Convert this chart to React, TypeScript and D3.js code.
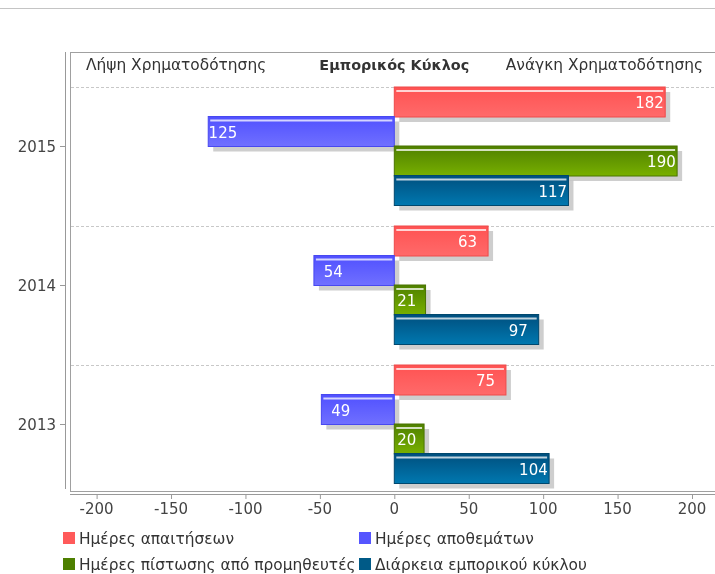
import * as d3 from "d3"

const years = ["2015", "2014", "2013"]
const seriesNames = [
  "Ημέρες απαιτήσεων",
  "Ημέρες αποθεμάτων",
  "Ημέρες πίστωσης από προμηθευτές",
  "Διάρκεια εμπορικού κύκλου",
]
const receivableDays = [182, 63, 75]
const inventoryDays = [-125, -54, -49]
const supplierDays = [190, 21, 20]
const cycleDays = [117, 97, 104]
const xTicks = [-200, -150, -100, -50, 0, 50, 100, 150, 200]
const headerLeft = "Λήψη Χρηματοδότησης"
const headerMid = "Εμπορικός Κύκλος"
const headerRight = "Ανάγκη Χρηματοδότησης"

const seriesValues = [receivableDays, inventoryDays, supplierDays, cycleDays]
// gradient top / bottom, border, legend swatch
const palette = [
  { top: "#ff5252", bottom: "#ff6a6a", border: "#ee4a4a", legend: "#ff5a5a" },
  { top: "#5050ff", bottom: "#7070ff", border: "#4848f0", legend: "#5555ff" },
  { top: "#4f8000", bottom: "#78b000", border: "#4a7400", legend: "#4d7f00" },
  { top: "#004f7e", bottom: "#0078b0", border: "#00486e", legend: "#005a87" },
]

const W = 715
const H = 574
const font = "'DejaVu Sans', sans-serif"

export default function App() {
  const plotLeft = 70
  const plotTop = 52
  const plotBottom = 491
  const headerBottom = 87

  const x = d3.scaleLinear().domain([-200, 200]).range([96.6, 692])
  const y = d3.scaleBand<string>().domain(years).range([headerBottom, headerBottom + 139 * 3]).paddingInner(0)
  const inner = d3
    .scaleBand<number>()
    .domain(seriesValues.map((_, i) => i))
    .range([0, 118])
  const barH = inner.bandwidth() + 0.5
  const groupCenter = (yr: string) => (y(yr) || 0) + 59

  return (
    <div style={{ position: "fixed", left: 0, top: 0 }}>
      <svg width={W} height={H} style={{ display: "block", fontFamily: font }}>
        <defs>
          {palette.map((p, i) => (
            <linearGradient key={i} id={`g${i}`} x1="0" y1="0" x2="0" y2="1">
              <stop offset="0%" stopColor={p.top} />
              <stop offset="100%" stopColor={p.bottom} />
            </linearGradient>
          ))}
          <clipPath id="plot">
            <rect x={plotLeft} y={plotTop} width={W - plotLeft} height={plotBottom - plotTop} />
          </clipPath>
        </defs>

        {/* top separator */}
        <line x1={0} x2={W} y1={8.5} y2={8.5} stroke="#c4c4c4" />

        {/* plot frame */}
        <rect x={plotLeft + 0.5} y={plotTop + 0.5} width={W} height={plotBottom - plotTop} fill="none" stroke="#a0a0a0" />

        {/* header */}
        <g fill="#333">
          <text x={86} y={70} fontSize={15.4}>{headerLeft}</text>
          <text x={x(0)} y={70} fontSize={14.4} textAnchor="middle" fontWeight="bold">{headerMid}</text>
          <text x={703} y={70} fontSize={15.4} textAnchor="end">{headerRight}</text>
        </g>

        {/* dashed separators */}
        {years.map((yr) => (
          <line
            key={yr}
            x1={plotLeft + 1}
            x2={W}
            y1={(y(yr) || 0) + 0.5}
            y2={(y(yr) || 0) + 0.5}
            stroke="#c8c8c8"
            strokeDasharray="3,2"
          />
        ))}

        {/* bars */}
        <g clipPath="url(#plot)">
          {years.map((yr, yi) =>
            seriesValues.map((vals, si) => {
              const v = vals[yi]
              const x0 = x(Math.min(0, v))
              const x1 = x(Math.max(0, v))
              const w = x1 - x0
              const top = (y(yr) || 0) + (inner(si) || 0)
              const p = palette[si]
              const labelPos = v >= 0 ? Math.max(x1 - 30, x0 + 3) : x0 + 29
              return (
                <g key={`${yr}-${si}`}>
                  <rect x={x0 + 5} y={top + 5} width={w} height={barH} fill="#bdbdbd" opacity={0.75} />
                  <rect x={x0} y={top} width={w} height={barH} fill={`url(#g${si})`} stroke={p.border} strokeWidth={1} />
                  <rect x={x0 + 2} y={top + 3} width={Math.max(0, w - 4)} height={2} fill="#ffffff" opacity={0.75} />
                  <text
                    x={labelPos}
                    y={top + barH / 2 + 6}
                    fill="#ffffff"
                    fontSize={15}
                    textAnchor={v >= 0 ? "start" : "end"}
                  >
                    {Math.abs(v)}
                  </text>
                </g>
              )
            }),
          )}
        </g>

        {/* y axis */}
        <line x1={65.5} x2={65.5} y1={plotTop} y2={489} stroke="#999" />
        {years.map((yr) => (
          <g key={yr} transform={`translate(0,${groupCenter(yr)})`}>
            <line x1={60} x2={65} y1={0.5} y2={0.5} stroke="#999" />
            <text x={56} y={6} textAnchor="end" fontSize={15} fill="#444">{yr}</text>
          </g>
        ))}

        {/* x axis */}
        <line x1={plotLeft} x2={W} y1={494.5} y2={494.5} stroke="#999" />
        {xTicks.map((t) => (
          <g key={t} transform={`translate(${x(t)},0)`}>
            <line x1={0.5} x2={0.5} y1={495} y2={499} stroke="#999" />
            <text x={0} y={514} textAnchor="middle" fontSize={15} fill="#444">{t}</text>
          </g>
        ))}

        {/* legend */}
        {seriesNames.map((name, i) => {
          const col = i % 2
          const row = Math.floor(i / 2)
          const lx = col === 0 ? 63 : 359
          const ly = 532 + row * 26
          return (
            <g key={name}>
              <rect x={lx} y={ly} width={12} height={12} fill={palette[i].legend} />
              <text x={lx + 16} y={ly + 12} fontSize={15.4} fill="#333">{name}</text>
            </g>
          )
        })}
      </svg>
    </div>
  )
}
